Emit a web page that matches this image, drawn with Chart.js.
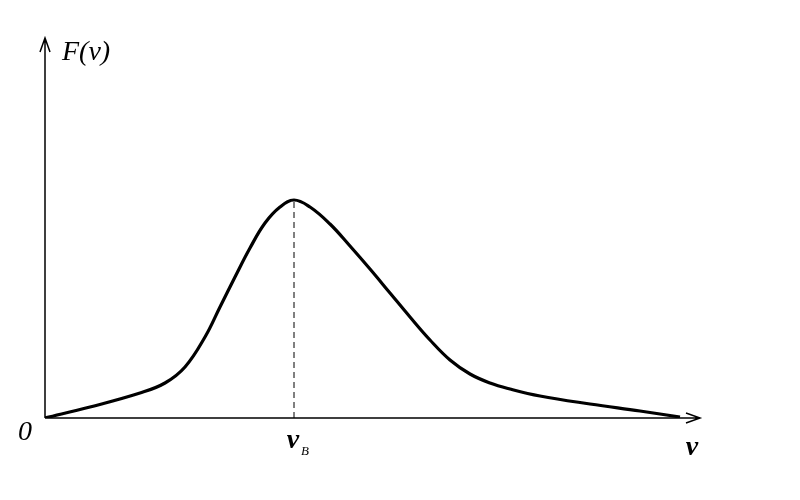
<!DOCTYPE html>
<html lang="en">
<head>
  <meta charset="UTF-8" />
  <title>F(v)</title>
  <script src="https://cdn.jsdelivr.net/npm/chart.js"></script>
  <style>
    html, body { margin: 0; padding: 0; background: #fff; }
    #wrap { width: 800px; height: 500px; }
  </style>
</head>
<body>
  <div id="wrap"><canvas id="chart" width="800" height="500"></canvas></div>

  <script>
    // curve samples
    const vValues = [0, 45, 95, 120, 140, 160, 175, 190, 205, 220, 235, 249, 265, 285, 305, 325, 345, 365, 385, 405, 425, 445, 465, 495, 545, 595, 635];
    const fValues = [0, 11, 25, 35, 51, 81, 111, 141, 170, 195, 211, 218, 211, 194, 172, 149, 125, 101, 78, 58, 44, 35, 29, 22, 14, 7, 1];
    const peakV = 249;
    const peakF = 218;
    const xMax = 655;
    const yMax = 380;

    const serif = "'Liberation Serif', 'Times New Roman', serif";

    // axes with arrows and the italic labels
    const axesPlugin = {
      id: "axesPlugin",
      afterDatasetsDraw(chart) {
        const { ctx, chartArea } = chart;
        const x0 = chartArea.left, y0 = chartArea.bottom;
        const x1 = chartArea.right, y1 = chartArea.top;
        ctx.save();
        ctx.strokeStyle = "#000";
        ctx.lineWidth = 1.5;
        ctx.beginPath();
        ctx.moveTo(x0, y0); ctx.lineTo(x1, y0);
        ctx.moveTo(x0, y0); ctx.lineTo(x0, y1);
        // arrow heads
        ctx.moveTo(x1 - 14, y0 - 5); ctx.lineTo(x1, y0); ctx.lineTo(x1 - 14, y0 + 5);
        ctx.moveTo(x0 - 5, y1 + 14); ctx.lineTo(x0, y1); ctx.lineTo(x0 + 5, y1 + 14);
        ctx.stroke();

        ctx.fillStyle = "#000";
        ctx.textBaseline = "alphabetic";
        ctx.font = "italic 28px " + serif;
        ctx.textAlign = "left";
        ctx.fillText("F(v)", x0 + 17, y1 + 22);
        ctx.fillText("0", x0 - 27, y0 + 22);

        ctx.font = "italic bold 28px " + serif;
        ctx.textAlign = "center";
        ctx.fillText("v", x1 - 8, y0 + 37);

        const xs = chart.scales.x.getPixelForValue(peakV);
        ctx.fillText("v", xs - 1, y0 + 30);
        ctx.font = "italic 13px " + serif;
        ctx.fillText("B", xs + 11, y0 + 37);
        ctx.restore();
      }
    };

    new Chart(document.getElementById("chart"), {
      type: "line",
      data: {
        datasets: [
          {
            data: vValues.map((v, i) => ({ x: v, y: fValues[i] })),
            borderColor: "#000",
            borderWidth: 3.2,
            pointRadius: 0,
            tension: 0.4,
            fill: false
          },
          {
            data: [{ x: peakV, y: 0 }, { x: peakV, y: peakF }],
            borderColor: "#000",
            borderWidth: 1,
            borderDash: [6, 4],
            pointRadius: 0,
            fill: false
          }
        ]
      },
      plugins: [axesPlugin],
      options: {
        responsive: false,
        animation: false,
        layout: { padding: { left: 45, right: 100, top: 38, bottom: 82 } },
        plugins: { legend: { display: false }, tooltip: { enabled: false } },
        scales: {
          x: { type: "linear", min: 0, max: xMax, display: false },
          y: { type: "linear", min: 0, max: yMax, display: false }
        }
      }
    });
  </script>
</body>
</html>
